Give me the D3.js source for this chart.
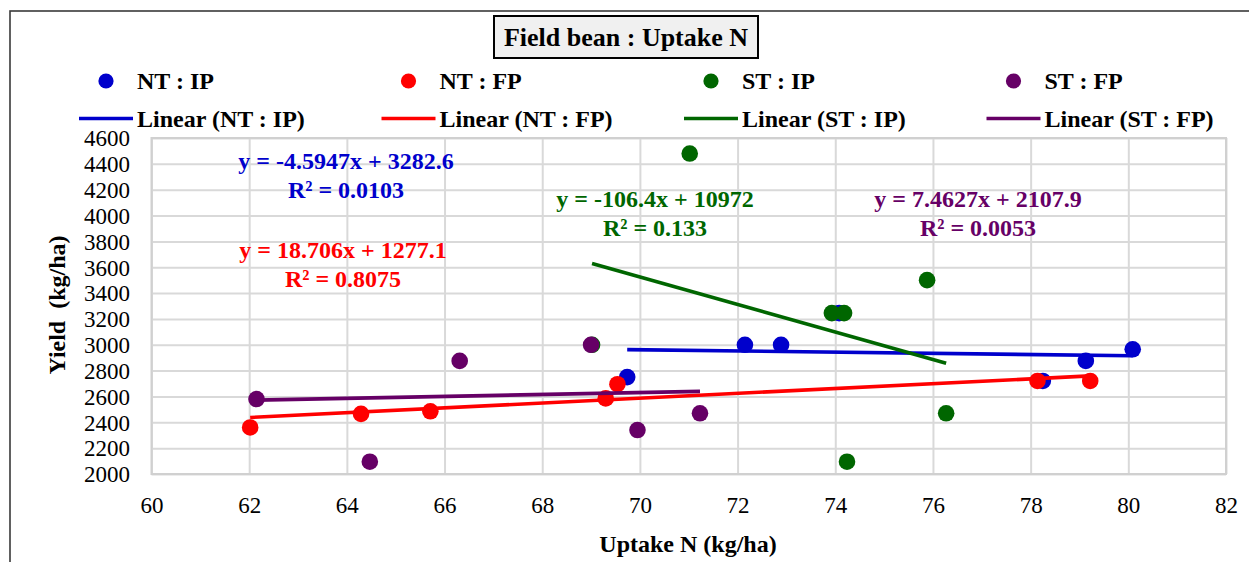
<!DOCTYPE html>
<html>
<head>
<meta charset="utf-8">
<script src="https://cdn.jsdelivr.net/npm/d3@7"></script>
<style>
  html, body { margin: 0; padding: 0; background: #fff; }
  svg { display: block; }
  text { font-family: "Liberation Serif", "Times New Roman", serif; }
</style>
</head>
<body>
<svg id="chart" width="1249" height="562"></svg>
<script>
// ---- data ----
const seriesNames = ["NT : IP", "NT : FP", "ST : IP", "ST : FP"];
const seriesColors = ["#0000CC", "#FF0000", "#006600", "#660066"];

// Uptake N (kg/ha) and Yield (kg/ha), one pair of arrays per treatment
const ntIpX = [69.74, 72.15, 72.89, 74.08, 78.25, 79.13, 80.09];
const ntIpY = [2750, 3000, 3000, 3245, 2720, 2875, 2965];

const ntFpX = [62.02, 64.29, 65.71, 69.30, 69.54, 78.14, 79.22];
const ntFpY = [2360, 2465, 2485, 2585, 2695, 2720, 2720];

const stIpX = [69.02, 71.02, 73.93, 74.18, 75.88, 76.27, 74.24];
const stIpY = [3000, 4480, 3245, 3245, 3500, 2470, 2095];

const stFpX = [62.15, 64.47, 66.31, 69.00, 69.95, 71.23];
const stFpY = [2580, 2095, 2875, 3000, 2340, 2470];

// linear trend coefficients (slope, intercept) and R²
const trendSlopes = [-4.5947, 18.706, -106.4, 7.4627];
const trendIntercepts = [3282.6, 1277.1, 10972, 2107.9];
const trendR2 = ["0.0103", "0.8075", "0.133", "0.0053"];
const trendEquations = [
  "y = -4.5947x + 3282.6",
  "y = 18.706x + 1277.1",
  "y = -106.4x + 10972",
  "y = 7.4627x + 2107.9"
];

const xTicks = [60, 62, 64, 66, 68, 70, 72, 74, 76, 78, 80, 82];
const yTicks = [2000, 2200, 2400, 2600, 2800, 3000, 3200, 3400, 3600, 3800, 4000, 4200, 4400, 4600];

const titleText = "Field bean : Uptake N";
const xTitle = "Uptake N (kg/ha)";
const yTitle = "Yield  (kg/ha)";

// ---- layout ----
const svg = d3.select("#chart");
const plot = { left: 151.5, right: 1226, top: 138, bottom: 474 };

const x = d3.scaleLinear().domain([60, 82]).range([plot.left, plot.right]);
const y = d3.scaleLinear().domain([2000, 4600]).range([plot.bottom, plot.top]);

const xs = [ntIpX, ntFpX, stIpX, stFpX];
const ys = [ntIpY, ntFpY, stIpY, stFpY];
const series = seriesNames.map((name, i) => ({
  name,
  color: seriesColors[i],
  points: xs[i].map((v, j) => ({ x: v, y: ys[i][j] })),
  slope: trendSlopes[i],
  intercept: trendIntercepts[i],
  eq: trendEquations[i],
  r2: trendR2[i]
}));

// outer chart frame
svg.append("rect")
  .attr("x", 10).attr("y", 11)
  .attr("width", 1400).attr("height", 700)
  .attr("fill", "none").attr("stroke", "#3a3a3a").attr("stroke-width", 1.6);

// gridlines
const grid = svg.append("g");
grid.append("g")
  .attr("transform", `translate(0,${plot.bottom})`)
  .call(d3.axisBottom(x).tickValues(xTicks).tickSize(-(plot.bottom - plot.top)).tickFormat(""))
  .call(g => g.select(".domain").remove())
  .call(g => g.selectAll("line").attr("stroke", "#d9d9d9").attr("stroke-width", 2));
grid.append("g")
  .attr("transform", `translate(${plot.left},0)`)
  .call(d3.axisLeft(y).tickValues(yTicks).tickSize(-(plot.right - plot.left)).tickFormat(""))
  .call(g => g.select(".domain").remove())
  .call(g => g.selectAll("line").attr("stroke", "#d9d9d9").attr("stroke-width", 2));
svg.append("rect")
  .attr("x", plot.left).attr("y", plot.top)
  .attr("width", plot.right - plot.left).attr("height", plot.bottom - plot.top)
  .attr("fill", "none").attr("stroke", "#d0d0d0").attr("stroke-width", 2);

// tick labels
const xAxis = svg.append("g")
  .attr("transform", `translate(0,${plot.bottom})`)
  .call(d3.axisBottom(x).tickValues(xTicks).tickSize(0).tickPadding(0).tickFormat(d3.format("d")));
xAxis.select(".domain").remove();
xAxis.selectAll("text")
  .attr("y", 39).attr("dy", 0)
  .attr("font-size", 23).attr("fill", "#000")
  .style("font-family", '"Liberation Serif", serif');

const yAxis = svg.append("g")
  .attr("transform", `translate(130,0)`)
  .call(d3.axisLeft(y).tickValues(yTicks).tickSize(0).tickPadding(0).tickFormat(d3.format("d")));
yAxis.select(".domain").remove();
yAxis.selectAll("text")
  .attr("x", 0).attr("dy", "0.34em")
  .attr("font-size", 23).attr("fill", "#000")
  .style("font-family", '"Liberation Serif", serif');

// axis titles
svg.append("text")
  .attr("x", 688).attr("y", 552)
  .attr("text-anchor", "middle")
  .attr("font-size", 24).attr("font-weight", "bold")
  .text(xTitle);
svg.append("text")
  .attr("transform", "translate(65,305) rotate(-90)")
  .attr("text-anchor", "middle")
  .attr("font-size", 24).attr("font-weight", "bold")
  .style("white-space", "pre")
  .text(yTitle);

// trend lines, drawn over the range of each series
const line = d3.line().x(d => x(d[0])).y(d => y(d[1]));
const trendLayer = svg.append("g");
const pointLayer = svg.append("g");
series.forEach(s => {
  const [x0, x1] = d3.extent(s.points, p => p.x);
  pointLayer.append("g")
    .selectAll("circle")
    .data(s.points)
    .join("circle")
    .attr("cx", d => x(d.x))
    .attr("cy", d => y(d.y))
    .attr("r", 8.3)
    .attr("fill", s.color);
  trendLayer.append("path")
    .datum([[x0, s.slope * x0 + s.intercept], [x1, s.slope * x1 + s.intercept]])
    .attr("d", line)
    .attr("fill", "none")
    .attr("stroke", s.color)
    .attr("stroke-width", 3.6);
});
// trend lines sit above the markers
trendLayer.raise();

// equation labels
const eqPos = [
  { cx: 346, by: 169 },
  { cx: 343, by: 258 },
  { cx: 655, by: 207 },
  { cx: 978, by: 207 }
];
series.forEach((s, i) => {
  const g = svg.append("g").attr("fill", s.color)
    .attr("font-size", 24).attr("font-weight", "bold")
    .attr("text-anchor", "middle");
  g.append("text").attr("x", eqPos[i].cx).attr("y", eqPos[i].by).text(s.eq);
  g.append("text").attr("x", eqPos[i].cx).attr("y", eqPos[i].by + 29).text("R² = " + s.r2);
});

// title box
const title = svg.append("g");
title.append("rect")
  .attr("x", 494).attr("y", 16).attr("width", 264).attr("height", 42)
  .attr("fill", "#f0f0f0").attr("stroke", "#000").attr("stroke-width", 2);
title.append("text")
  .attr("x", 626).attr("y", 46)
  .attr("text-anchor", "middle")
  .attr("font-size", 26).attr("font-weight", "bold")
  .text(titleText);

// legend
const legend = svg.append("g").attr("font-size", 24).attr("font-weight", "bold");
series.forEach((s, i) => {
  const x0 = 79 + i * 302.5;
  const g = legend.append("g").attr("transform", `translate(${x0},0)`);
  g.append("circle").attr("cx", 27).attr("cy", 81).attr("r", 7.6).attr("fill", s.color);
  g.append("text").attr("x", 58).attr("y", 89).text(s.name);
  g.append("line").attr("x1", 0).attr("x2", 54).attr("y1", 118.5).attr("y2", 118.5)
    .attr("stroke", s.color).attr("stroke-width", 3.6);
  g.append("text").attr("x", 58).attr("y", 127).text(`Linear (${s.name})`);
});
</script>
</body>
</html>
